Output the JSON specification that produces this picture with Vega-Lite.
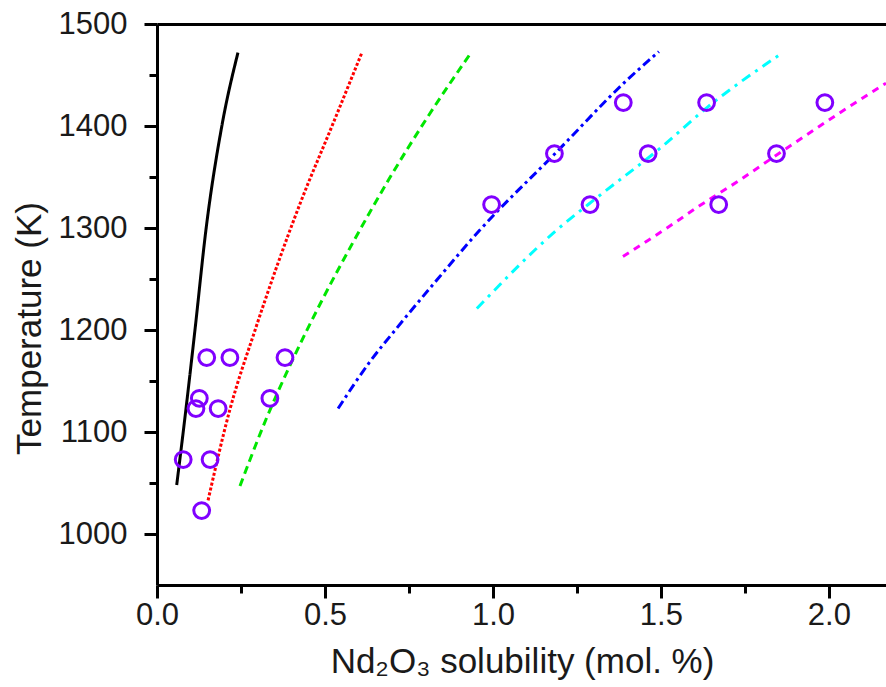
{
  "$schema": "https://vega.github.io/schema/vega-lite/v6.json",
  "width": 729,
  "height": 561,
  "autosize": {"type": "none"},
  "padding": {"left": 157, "top": 24, "right": 0, "bottom": 102},
  "background": "white",
  "config": {
    "view": {"stroke": null},
    "axis": {
      "grid": false,
      "domainColor": "black",
      "domainWidth": 3,
      "tickColor": "black",
      "tickWidth": 3,
      "labelFont": "Liberation Sans",
      "labelFontSize": 31,
      "labelColor": "#1a1a1a",
      "titleFont": "Liberation Sans",
      "titleFontSize": 35,
      "titleFontWeight": "normal",
      "titleColor": "#1a1a1a"
    }
  },
  "datasets": {
    "curves": [
      {"s": "a", "x": 0.0586, "T": 1048},
      {"s": "a", "x": 0.086, "T": 1122},
      {"s": "a", "x": 0.113, "T": 1200},
      {"s": "a", "x": 0.146, "T": 1299},
      {"s": "a", "x": 0.193, "T": 1400},
      {"s": "a", "x": 0.241, "T": 1472},
      {"s": "b", "x": 0.152, "T": 1033},
      {"s": "b", "x": 0.217, "T": 1122},
      {"s": "b", "x": 0.292, "T": 1200},
      {"s": "b", "x": 0.426, "T": 1324},
      {"s": "b", "x": 0.521, "T": 1400},
      {"s": "b", "x": 0.61, "T": 1472},
      {"s": "c", "x": 0.247, "T": 1047},
      {"s": "c", "x": 0.324, "T": 1112},
      {"s": "c", "x": 0.404, "T": 1171},
      {"s": "c", "x": 0.491, "T": 1229},
      {"s": "c", "x": 0.587, "T": 1288},
      {"s": "c", "x": 0.689, "T": 1347},
      {"s": "c", "x": 0.8, "T": 1406},
      {"s": "c", "x": 0.935, "T": 1472},
      {"s": "d", "x": 0.539, "T": 1123},
      {"s": "d", "x": 0.634, "T": 1169},
      {"s": "d", "x": 0.714, "T": 1202},
      {"s": "d", "x": 0.833, "T": 1249},
      {"s": "d", "x": 0.961, "T": 1298},
      {"s": "d", "x": 1.182, "T": 1372},
      {"s": "d", "x": 1.399, "T": 1445},
      {"s": "d", "x": 1.494, "T": 1473},
      {"s": "e", "x": 0.952, "T": 1221},
      {"s": "e", "x": 1.19, "T": 1298},
      {"s": "e", "x": 1.318, "T": 1332},
      {"s": "e", "x": 1.497, "T": 1378},
      {"s": "e", "x": 1.637, "T": 1418},
      {"s": "e", "x": 1.863, "T": 1472},
      {"s": "f", "x": 1.387, "T": 1272},
      {"s": "f", "x": 1.518, "T": 1300},
      {"s": "f", "x": 1.616, "T": 1322},
      {"s": "f", "x": 1.735, "T": 1347},
      {"s": "f", "x": 1.833, "T": 1369},
      {"s": "f", "x": 2.033, "T": 1413},
      {"s": "f", "x": 2.17, "T": 1442}
    ],
    "points": [
      {"x": 0.078, "T": 1073},
      {"x": 0.158, "T": 1073},
      {"x": 0.133, "T": 1023},
      {"x": 0.116, "T": 1123},
      {"x": 0.182, "T": 1123},
      {"x": 0.126, "T": 1133},
      {"x": 0.336, "T": 1133},
      {"x": 0.148, "T": 1173},
      {"x": 0.217, "T": 1173},
      {"x": 0.381, "T": 1173},
      {"x": 0.996, "T": 1323},
      {"x": 1.289, "T": 1323},
      {"x": 1.672, "T": 1323},
      {"x": 1.183, "T": 1373},
      {"x": 1.462, "T": 1373},
      {"x": 1.844, "T": 1373},
      {"x": 1.388, "T": 1423},
      {"x": 1.636, "T": 1423},
      {"x": 1.988, "T": 1423}
    ]
  },
  "layer": [
    {
      "data": {"name": "curves"},
      "mark": {"type": "line", "strokeWidth": 3, "clip": true, "interpolate": "monotone"},
      "encoding": {
        "x": {
          "field": "x",
          "type": "quantitative",
          "scale": {"domain": [0, 2.17], "nice": false, "zero": false},
          "axis": {
            "orient": "bottom",
            "values": [0, 0.25, 0.5, 0.75, 1, 1.25, 1.5, 1.75, 2],
            "labelExpr": "datum.value*2 == round(datum.value*2) ? format(datum.value, '.1f') : ''",
            "tickSize": {"condition": {"test": "datum.value*2 == round(datum.value*2)", "value": 13}, "value": 8},
            "labelPadding": 2,
            "labelFlush": false,
            "labelOverlap": false,
            "title": "Nd₂O₃ solubility (mol. %)",
            "titleX": 365,
            "titleY": 87,
            "titleAlign": "center",
            "titleBaseline": "alphabetic"
          }
        },
        "y": {
          "field": "T",
          "type": "quantitative",
          "scale": {"domain": [950, 1500], "nice": false, "zero": false},
          "axis": {
            "values": [1000, 1050, 1100, 1150, 1200, 1250, 1300, 1350, 1400, 1450, 1500],
            "labelExpr": "datum.value % 100 == 0 ? format(datum.value, 'd') : ''",
            "tickSize": {"condition": {"test": "datum.value % 100 == 0", "value": 13}, "value": 8},
            "labelPadding": 17,
            "labelFlush": false,
            "labelOverlap": false,
            "title": "Temperature (K)",
            "titleX": -117,
            "titleY": 304,
            "titleAngle": -90,
            "titleAlign": "center",
            "titleBaseline": "alphabetic"
          }
        },
        "color": {
          "field": "s",
          "type": "nominal",
          "scale": {"domain": ["a", "b", "c", "d", "e", "f"], "range": ["#000000", "#ff0000", "#00e600", "#0000ff", "#00ffff", "#ff00ff"]},
          "legend": null
        },
        "strokeDash": {
          "field": "s",
          "type": "nominal",
          "scale": {"domain": ["a", "b", "c", "d", "e", "f"], "range": [[1, 0], [3, 2], [8, 5], [9, 4, 3, 4], [10, 6, 3, 6], [7, 6]]},
          "legend": null
        },
        "order": {"field": "T", "type": "quantitative"}
      }
    },
    {
      "data": {"name": "points"},
      "mark": {"type": "point", "shape": "circle", "filled": false, "size": 250, "strokeWidth": 3, "color": "#8000ff", "opacity": 1},
      "encoding": {
        "x": {
          "field": "x",
          "type": "quantitative",
          "axis": {"orient": "top", "labels": false, "ticks": false, "title": null, "domain": true}
        },
        "y": {"field": "T", "type": "quantitative"}
      }
    }
  ],
  "resolve": {"axis": {"x": "independent"}}
}
